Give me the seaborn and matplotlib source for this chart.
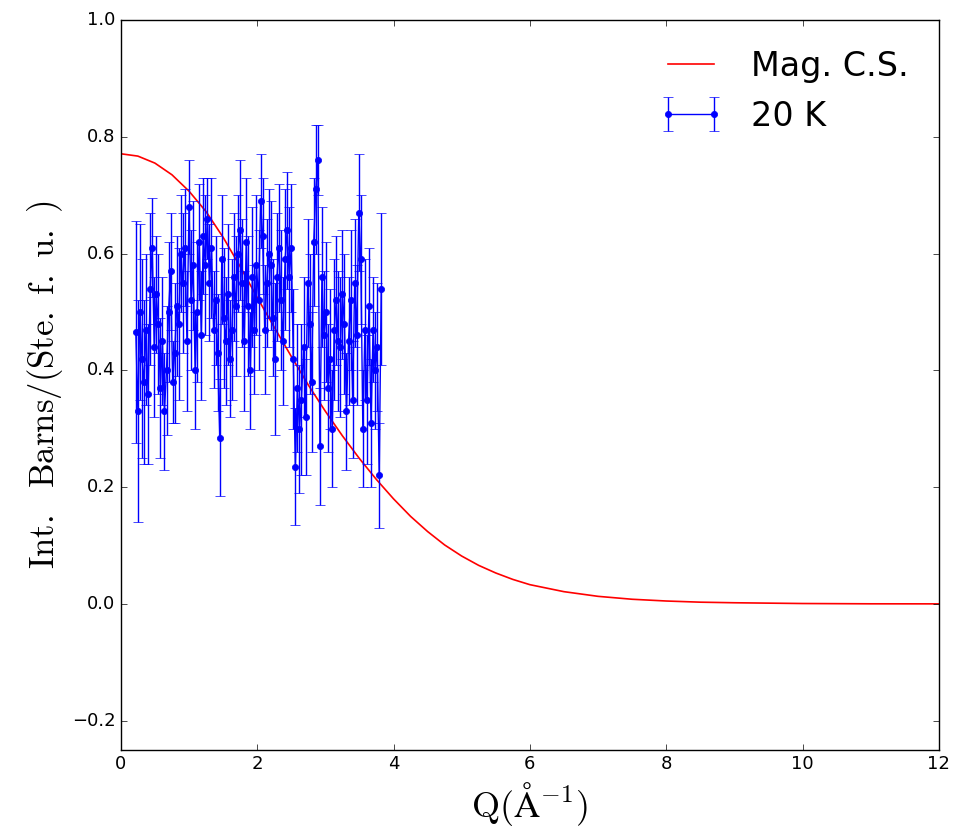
import matplotlib
matplotlib.use("Agg")
import matplotlib.pyplot as plt
import seaborn as sns
import pandas as pd

# magnetic cross section curve
q_curve = [0.0, 0.25, 0.5, 0.75, 1.0, 1.25, 1.5, 1.75, 2.0, 2.25, 2.5, 2.75, 3.0,
           3.25, 3.5, 3.75, 4.0, 4.25, 4.5, 4.75, 5.0, 5.25, 5.5, 5.75, 6.0,
           6.5, 7.0, 7.5, 8.0, 8.5, 9.0, 10.0, 11.0, 12.0]
cs_curve = [0.771, 0.767, 0.755, 0.735, 0.707, 0.672, 0.628, 0.578, 0.525, 0.474,
            0.424, 0.375, 0.330, 0.288, 0.249, 0.213, 0.180, 0.150, 0.124, 0.101,
            0.082, 0.066, 0.053, 0.042, 0.033, 0.021, 0.013, 0.008, 0.005, 0.003,
            0.002, 0.0007, 0.0002, 0.0001]

# 20 K data
q_20k = [0.22, 0.25, 0.28, 0.31, 0.34, 0.37, 0.40, 0.43, 0.46, 0.49,
         0.52, 0.55, 0.58, 0.61, 0.64, 0.67, 0.70, 0.73, 0.76, 0.79,
         0.82, 0.85, 0.88, 0.91, 0.94, 0.97, 1.00, 1.03, 1.06, 1.09,
         1.12, 1.15, 1.18, 1.21, 1.24, 1.27, 1.30, 1.33, 1.36, 1.39,
         1.42, 1.45, 1.48, 1.51, 1.54, 1.57, 1.60, 1.63, 1.66, 1.69,
         1.72, 1.75, 1.78, 1.81, 1.84, 1.87, 1.90, 1.93, 1.96, 1.99,
         2.02, 2.05, 2.08, 2.11, 2.14, 2.17, 2.20, 2.23, 2.26, 2.29,
         2.32, 2.35, 2.38, 2.41, 2.44, 2.47, 2.50, 2.53, 2.56, 2.59,
         2.62, 2.65, 2.68, 2.71, 2.74, 2.77, 2.80, 2.83, 2.86, 2.89,
         2.92, 2.95, 2.98, 3.01, 3.04, 3.07, 3.10, 3.13, 3.16, 3.19,
         3.22, 3.25, 3.28, 3.31, 3.34, 3.37, 3.40, 3.43, 3.46, 3.49,
         3.52, 3.55, 3.58, 3.61, 3.64, 3.67, 3.70, 3.73, 3.76, 3.79, 3.82]
i_20k = [0.465, 0.33, 0.50, 0.42, 0.38, 0.47, 0.36, 0.54, 0.61, 0.44,
         0.53, 0.48, 0.37, 0.45, 0.33, 0.40, 0.50, 0.57, 0.38, 0.43,
         0.51, 0.48, 0.60, 0.55, 0.61, 0.45, 0.68, 0.52, 0.58, 0.40,
         0.50, 0.62, 0.46, 0.63, 0.58, 0.66, 0.55, 0.61, 0.47, 0.52,
         0.43, 0.285, 0.59, 0.49, 0.45, 0.53, 0.42, 0.47, 0.56, 0.51,
         0.60, 0.64, 0.55, 0.45, 0.62, 0.51, 0.40, 0.56, 0.47, 0.58,
         0.52, 0.69, 0.63, 0.47, 0.55, 0.60, 0.58, 0.49, 0.42, 0.56,
         0.61, 0.52, 0.45, 0.59, 0.64, 0.56, 0.61, 0.42, 0.235, 0.37,
         0.30, 0.35, 0.44, 0.32, 0.55, 0.48, 0.38, 0.62, 0.71, 0.76,
         0.27, 0.56, 0.46, 0.50, 0.37, 0.42, 0.30, 0.47, 0.52, 0.45,
         0.44, 0.53, 0.48, 0.33, 0.45, 0.52, 0.35, 0.55, 0.46, 0.67,
         0.59, 0.30, 0.47, 0.35, 0.51, 0.31, 0.47, 0.40, 0.44, 0.22, 0.54]
err_20k = [0.19, 0.19, 0.15, 0.17, 0.14, 0.13, 0.12, 0.13, 0.085, 0.12,
           0.10, 0.12, 0.12, 0.11, 0.10, 0.11, 0.12, 0.10, 0.07, 0.12,
           0.12, 0.13, 0.10, 0.12, 0.10, 0.12, 0.08, 0.12, 0.11, 0.10,
           0.12, 0.10, 0.11, 0.10, 0.12, 0.07, 0.10, 0.12, 0.10, 0.11,
           0.10, 0.10, 0.11, 0.12, 0.11, 0.12, 0.10, 0.12, 0.11, 0.12,
           0.10, 0.12, 0.11, 0.12, 0.11, 0.12, 0.10, 0.12, 0.11, 0.12,
           0.12, 0.08, 0.10, 0.11, 0.11, 0.11, 0.11, 0.10, 0.13, 0.11,
           0.11, 0.12, 0.11, 0.12, 0.10, 0.12, 0.11, 0.12, 0.10, 0.11,
           0.11, 0.13, 0.12, 0.10, 0.11, 0.12, 0.12, 0.11, 0.11, 0.06,
           0.10, 0.12, 0.11, 0.12, 0.11, 0.12, 0.10, 0.12, 0.11, 0.12,
           0.12, 0.11, 0.12, 0.10, 0.11, 0.12, 0.10, 0.11, 0.12, 0.10,
           0.11, 0.10, 0.12, 0.11, 0.10, 0.11, 0.09, 0.10, 0.11, 0.09, 0.13]

x_ticks = [0, 2, 4, 6, 8, 10, 12]
y_ticks = [-0.2, 0.0, 0.2, 0.4, 0.6, 0.8, 1.0]

plt.style.use('classic')

curve = pd.DataFrame({'Q': q_curve, 'cs': cs_curve})

fig = plt.figure(figsize=(9.59, 8.36), dpi=100, facecolor='white')
ax = fig.add_axes([0.126, 0.103, 0.853, 0.873])

sns.lineplot(data=curve, x='Q', y='cs', color='red', lw=1.2, ax=ax,
             label='Mag. C.S.', sort=False)
ax.errorbar(q_20k, i_20k, yerr=err_20k, fmt='o-', color='blue', mec='blue',
            ms=4.5, lw=1.0, capsize=3.5, label='20 K')

ax.set_xlim(0, 12)
ax.set_ylim(-0.25, 1.0)
ax.set_xticks(x_ticks)
ax.set_yticks(y_ticks)
ax.tick_params(labelsize=13)

ax.set_xlabel(r'$\mathrm{Q(\AA^{-1})}$', fontsize=26)
ax.set_ylabel(r'$\mathrm{Int.\ \ Barns/(Ste.\ f.\ u.\ )}$', fontsize=25)

ax.legend(loc='upper right', frameon=False, fontsize=24, numpoints=2)

fig.savefig('out.png', dpi=100, facecolor='white')
